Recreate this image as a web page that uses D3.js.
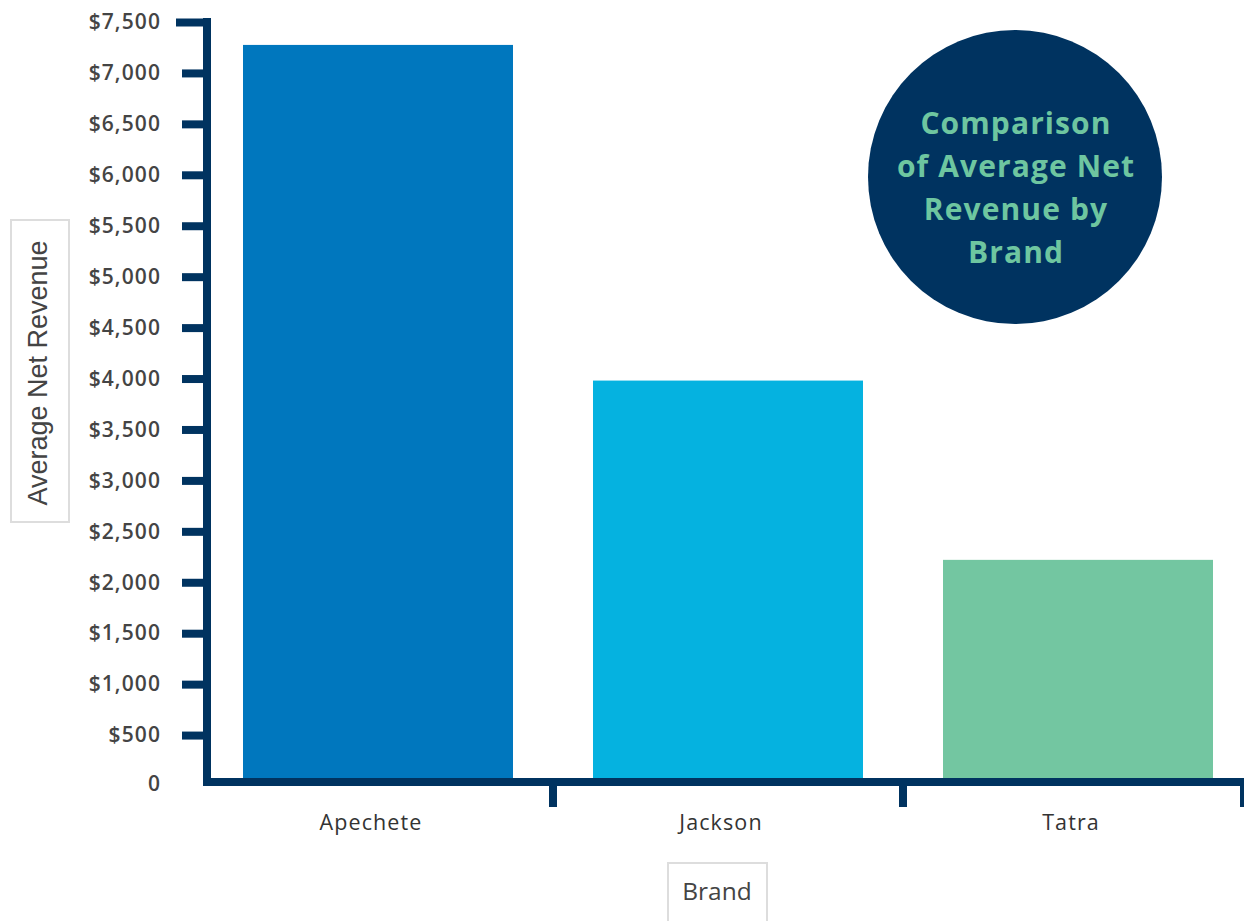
<!DOCTYPE html>
<html><head><meta charset="utf-8">
<script src="https://cdn.jsdelivr.net/npm/d3@7/dist/d3.min.js"></script>
<style>body{margin:0;background:#fff}svg{display:block}</style>
</head><body>
<svg id="c" width="1244" height="921"></svg>
<script>
const categories = ["Apechete", "Jackson", "Tatra"];
const values = [7275, 3980, 2220];
const barColors = ["#0077BE", "#05B2E0", "#73C6A1"];
const yTicks = [0,500,1000,1500,2000,2500,3000,3500,4000,4500,5000,5500,6000,6500,7000,7500];
const titleLines = ["Comparison", "of Average Net", "Revenue by", "Brand"];
const yLabel = "Average Net Revenue";
const xLabel = "Brand";

const navy = "#003360";
const font = "'Open Sans', Lato, sans-serif";
const svg = d3.select("#c");
const x = d3.scaleBand().domain(categories).range([203, 1253]).paddingInner(0).paddingOuter(0);
const y = d3.scaleLinear().domain([0, 7500]).range([786, 22]);
const axisY = 782;

// bars
svg.selectAll("rect.bar").data(categories).join("rect")
  .attr("class","bar")
  .attr("x", d => x(d) + 40)
  .attr("width", x.bandwidth() - 80)
  .attr("y", (d,i) => y(values[i]))
  .attr("height", (d,i) => axisY - y(values[i]))
  .attr("fill", (d,i) => barColors[i]);

// y axis
const yAxis = d3.axisLeft(y).tickValues(yTicks).tickSize(25).tickPadding(21)
  .tickFormat(d => d === 0 ? "0" : "$" + d3.format(",")(d));
const gy = svg.append("g").attr("transform","translate(207,0)").call(yAxis);
gy.select(".domain").remove();
gy.selectAll(".tick line").attr("stroke", navy).attr("stroke-width", 8);
gy.selectAll(".tick").filter(d => d === 0).select("line").remove();
gy.selectAll(".tick").filter(d => d === 7500).select("line").attr("x2", -31);
gy.selectAll(".tick text").attr("fill","#444").attr("font-family", font)
  .attr("font-weight", 600).attr("font-size", 21).attr("letter-spacing", 1.1);
gy.selectAll(".tick").filter(d => d === 0).select("text").attr("dy", "0.2em");
svg.append("line").attr("x1",207).attr("x2",207).attr("y1",y(7500)-4).attr("y2",axisY+4)
  .attr("stroke", navy).attr("stroke-width", 8);

// x axis
svg.append("line").attr("x1",203).attr("x2",1244).attr("y1",axisY).attr("y2",axisY)
  .attr("stroke", navy).attr("stroke-width", 8);
const bounds = categories.slice(1).map(c => x(c)).concat([1244]);
svg.selectAll("line.xt").data(bounds).join("line").attr("class","xt")
  .attr("x1", d => d).attr("x2", d => d).attr("y1", axisY).attr("y2", 807)
  .attr("stroke", navy).attr("stroke-width", 8);
svg.selectAll("text.xl").data(categories).join("text").attr("class","xl")
  .attr("x", d => x(d) + x.bandwidth()/2 - 7).attr("y", 830)
  .attr("text-anchor","middle").attr("fill","#333")
  .attr("font-family", font).attr("font-size", 21.5).attr("letter-spacing", 1.1)
  .text(d => d);

// y label box
svg.append("rect").attr("x",11).attr("y",220).attr("width",58).attr("height",302)
  .attr("fill","#fff").attr("stroke","#ddd").attr("stroke-width",2);
svg.append("text").attr("transform","translate(47,373) rotate(-90)")
  .attr("text-anchor","middle").attr("fill","#444")
  .attr("font-family","'Liberation Sans', Arial, sans-serif").attr("font-size", 27)
  .text(yLabel);

// x label box
svg.append("rect").attr("x",668).attr("y",863).attr("width",99).attr("height",70)
  .attr("fill","#fff").attr("stroke","#ddd").attr("stroke-width",2);
svg.append("text").attr("x",717).attr("y",900).attr("text-anchor","middle").attr("fill","#444")
  .attr("font-family", font).attr("font-size", 24.5)
  .text(xLabel);

// title circle
svg.append("circle").attr("cx",1015).attr("cy",177).attr("r",147).attr("fill",navy);
svg.selectAll("text.t").data(titleLines).join("text").attr("class","t")
  .attr("x",1016).attr("y",(d,i) => 134 + i*43)
  .attr("text-anchor","middle").attr("fill","#6EC6A0")
  .attr("font-family", font).attr("font-weight",700).attr("font-size",30).attr("letter-spacing",1.1)
  .text(d => d);
</script>
</body></html>
